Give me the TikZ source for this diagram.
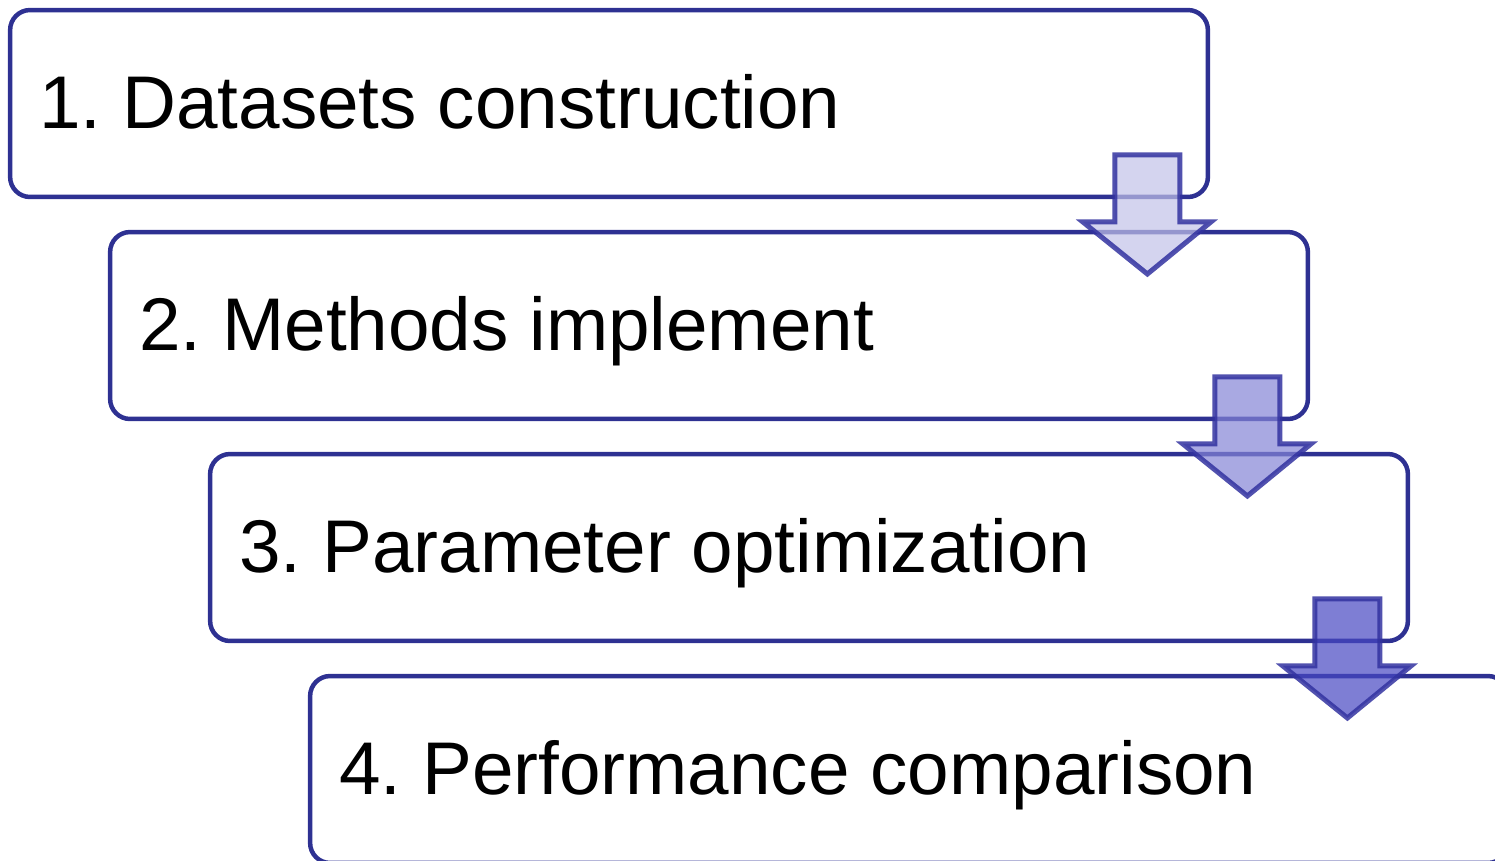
\documentclass[tikz,border=0pt]{standalone}
\usepackage{fontspec}
\setmainfont{Liberation Sans}
\usetikzlibrary{calc}
\frenchspacing
\definecolor{boxblue}{RGB}{46,49,146}
\definecolor{arrowblue}{RGB}{50,50,160}
\definecolor{arrA}{RGB}{194,194,232}
\definecolor{arrB}{RGB}{132,132,214}
\definecolor{arrC}{RGB}{71,71,194}
\tikzset{
  stepbox/.style={draw=boxblue, line width=0.09cm, rounded corners=0.4cm,
    minimum width=23.96cm, minimum height=3.74cm, inner sep=0, outer sep=0},
  steptext/.style={anchor=base west, inner sep=0, font=\fontsize{42.5}{50}\selectfont},
  blockarrow/.style={draw=arrowblue, draw opacity=0.85, fill opacity=0.7,
    line width=0.1cm, line join=miter}
}
\begin{document}
\begin{tikzpicture}[x=0.02cm, y=-0.02cm]
    \useasboundingbox (0,0) rectangle (1495,860);
    \clip (0,0) rectangle (1495,860);
    % the four steps
    \foreach \i/\txt in {1/{1. Datasets construction}, 2/{2. Methods implement},
                        3/{3. Parameter optimization}, 4/{4. Performance comparison}}
    {
        \node[stepbox] (box\i) at ({509+100*\i},{-118.5+222*\i}) {};
        \node[steptext] (lab\i) at ($(box\i.west)+(29,24.5)$) {\txt};
    }
    % arrows from one step to the next
    \foreach \i/\c in {1/arrA, 2/arrB, 3/arrC}
    {
        \draw[blockarrow, fill=\c] ($(box\i.south east)+(-93,-42)$) -- ++(65,0) -- ++(0,67)
            -- ++(31,0) -- ($(box\i.south east)+(-60.5,77)$) -- ++(-64.5,-52) -- ++(32,0) -- cycle;
    }
\end{tikzpicture}
\end{document}
